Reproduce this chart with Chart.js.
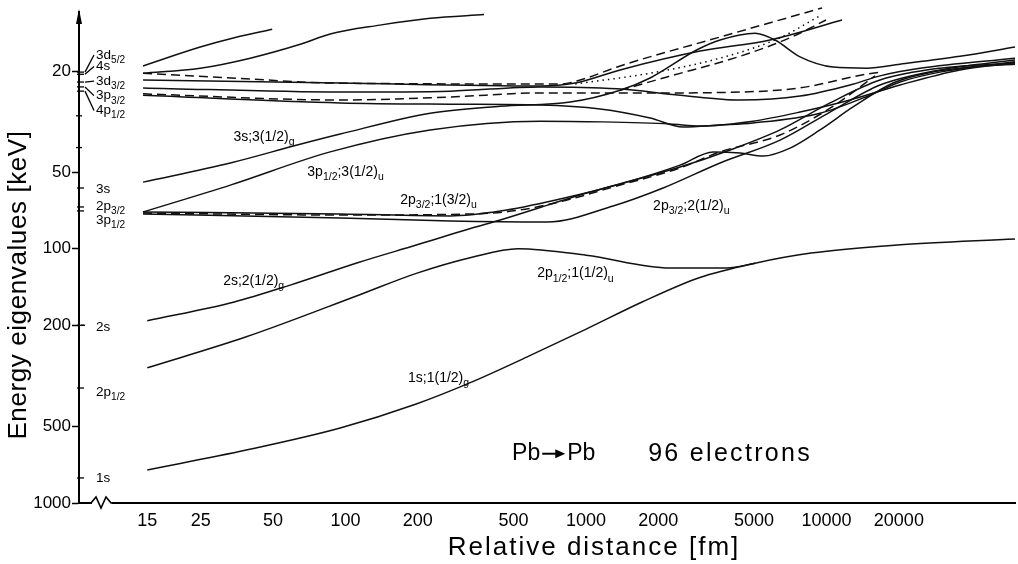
<!DOCTYPE html>
<html>
<head>
<meta charset="utf-8">
<script src="https://cdn.jsdelivr.net/npm/chart.js@4.4.1/dist/chart.umd.min.js"></script>
<style>
  html, body { margin: 0; padding: 0; background: #fff; }
  #wrap { width: 1018px; height: 564px; position: relative; }
</style>
</head>
<body>
<div id="wrap"><canvas id="chart"></canvas></div>
<script>
/* ===== DATA (x = relative distance [fm], y = energy [keV]) ===== */
const xTicks = [15, 25, 50, 100, 200, 500, 1000, 2000, 5000, 10000, 20000];
const yTicks = [20, 50, 100, 200, 500, 1000];
const yMinorTicks = [30, 40];

// united-atom levels marked on the energy axis
const levelNames = ['3d_5/2', '4s', '3d_3/2', '3p_3/2', '4p_1/2', '3s', '2p_3/2', '3p_1/2', '2s', '2p_1/2', '1s'];
const levelEnergy = [20.2, 20.6, 22.1, 23.1, 24.0, 57.7, 68.5, 71.0, 200, 353, 797];
const levelLabelE = [17.3, 19.2, 21.9, 25.0, 28.6, 58.2, 67.9, 77.1, 203, 366, 797];

// solid curves
const topShort = [[14.4, 19.1], [24.9, 16.1], [34.5, 14.8], [49.6, 13.7]];
const topRise = [[14.4, 20.4], [24.9, 19.5], [40.2, 17.8], [64.9, 15.7], [86.4, 14.3], [139, 13.2], [225, 12.4], [377, 12.0]];
const upperD = [[14.4, 21.7], [95.1, 22.3], [645, 22.9], [902, 22.3], [1387, 19.8], [2984, 16.7], [5826, 15.1], [11607, 12.6]];
const upperE = [[14.4, 23.3], [95.1, 24.2], [273, 24.0], [645, 23.1], [1347, 23.5], [2463, 24.9], [4373, 26.0], [7766, 25.1], [12530, 22.7], [16700, 20.9], [24480, 19.5], [60800, 17.8]];
const upperG = [[14.4, 24.9], [95.1, 26.7], [273, 27.0], [645, 27.2], [1145, 28.2], [1848, 30.6], [2535, 33.2], [3611, 32.6], [4952, 32.0], [9404, 29.3], [15175, 24.9], [20220, 22.1], [29640, 20.2], [60800, 18.4]];
const lvl3p12 = [[14.4, 71.7], [33.2, 56.2], [86.4, 41.6], [225, 34.1], [645, 31.5], [1179, 31.7], [2238, 32.3], [2984, 32.9], [4952, 31.5], [7766, 29.0], [12530, 26.0], [20220, 22.7], [35910, 19.8], [60800, 18.6]];
const lvl3s = [[14.4, 54.7], [33.2, 46.0], [63, 39.1], [95.1, 35.4], [225, 29.3], [440, 27.5], [860, 26.5], [1387, 23.8], [1848, 21.3], [2898, 16.5], [3611, 15.1], [5048, 14.2], [6111, 15.1], [7766, 17.6], [10650, 19.3], [14744, 19.5], [20220, 18.8], [35910, 17.5], [60800, 16.1]];
const lvl2s = [[15, 192], [34.5, 162], [58.9, 139], [114, 113], [197, 96.7], [336, 82.9], [440, 77.1], [946, 61.5], [2463, 47.7], [3975, 40.9], [6411, 34.1], [10349, 26.7], [16700, 21.7], [29640, 19.5], [60800, 18.6]];
const lvl2p32a = [[14.4, 71.7], [95.1, 73.0], [273, 74.3], [440, 71.1], [781, 63.7], [1387, 55.6], [2463, 46.9], [3378, 41.6], [4373, 42.0], [5450, 43.2], [7056, 40.2], [9404, 34.1], [12896, 27.7], [18900, 22.3], [26180, 20.4], [39510, 19.3], [60800, 18.8]];
const lvl2p32b = [[14.4, 73.0], [95.1, 75.7], [273, 77.8], [690, 78.5], [1297, 67.9], [2093, 57.7], [3611, 46.0], [6411, 37.4], [10349, 29.0], [16700, 22.7], [29640, 19.8], [60800, 18.1]];
const lvl2p12 = [[15, 294], [38.7, 222], [114, 152], [197, 125], [336, 108], [522, 100], [1002, 106], [2238, 119], [3861, 119], [5048, 114]];
const lvl1s = [[15, 741], [38.7, 619], [95.1, 507], [197, 408], [336, 334], [581, 264], [1002, 207], [1712, 162], [2955, 130], [5048, 114], [8628, 104], [19650, 96.7], [60800, 91.5]];

// dashed curves
const upperC = [[14.4, 20.4], [40.2, 21.5], [86.4, 22.3], [781, 22.5], [946, 21.7], [1387, 19.1], [3611, 14.7], [9585, 11.3]];
const upperDash2 = [[1387, 23.8], [2175, 21.1], [4373, 17.5], [7056, 14.8], [9960, 12.6]];
const upperF = [[14.4, 24.6], [95.1, 26.0], [273, 25.3], [645, 24.4], [1848, 24.4], [4373, 24.2], [7766, 23.3], [14190, 20.7], [16700, 20.2]];
const lvl2p32d = [[14.4, 72.4], [95.1, 73.7], [330, 73.0], [532, 70.4], [835, 64.3], [1297, 57.2], [2463, 48.1], [3611, 41.6], [6411, 35.7], [10349, 28.0], [15920, 20.9]];

// dotted curve
const upperDot = [[902, 22.5], [1848, 20.4], [3611, 17.8], [6411, 14.8], [9585, 12.0]];

// curve labels
const curveLabels = ['3s;3(1/2)_g', '3p_1/2;3(1/2)_u', '2p_3/2;1(3/2)_u', '2p_3/2;2(1/2)_u', '2s;2(1/2)_g', '2p_1/2;1(1/2)_u', '1s;1(1/2)_g'];
const curveLabelX = [34.2, 69.4, 169, 1902, 31.0, 627, 182];
const curveLabelE = [36.4, 49.9, 64.3, 67.9, 134, 125, 322];

const solidCurves = [topShort, topRise, upperD, upperE, upperG, lvl3p12, lvl3s, lvl2s, lvl2p32a, lvl2p32b, lvl2p12, lvl1s];
const dashedCurves = [upperC, upperDash2, upperF, lvl2p32d];
const dottedCurves = [upperDot];

/* ===== HELPERS ===== */
const FONT = '"Liberation Sans", Arial, sans-serif';

// "2p_3/2;1(3/2)_u" -> [["2p",0],["3/2",1],[";1(3/2)",0],["u",1]]
function parseLabel(s) {
  const bits = s.split('_');
  const out = [[bits[0], 0]];
  bits.slice(1).forEach(b => {
    const i = b.indexOf(';');
    if (i < 0) out.push([b, 1]);
    else { out.push([b.slice(0, i), 1]); out.push([b.slice(i), 0]); }
  });
  return out;
}

function richText(ctx, s, x, y, size) {
  let cx = x;
  ctx.textAlign = 'left';
  ctx.textBaseline = 'middle';
  parseLabel(s).forEach(([t, sub]) => {
    ctx.font = (sub ? size * 0.75 : size) + 'px ' + FONT;
    ctx.fillText(t, cx, sub ? y + size * 0.38 : y);
    cx += ctx.measureText(t).width;
  });
}

function line(ctx, x1, y1, x2, y2) {
  ctx.beginPath();
  ctx.moveTo(x1, y1);
  ctx.lineTo(x2, y2);
  ctx.stroke();
}

/* ===== DATASETS ===== */
const datasets = [];
function addCurve(pts, dash) {
  datasets.push({
    data: pts.map(p => ({ x: p[0], y: p[1] })),
    showLine: true,
    borderColor: '#111',
    borderWidth: 1.5,
    borderDash: dash,
    pointRadius: 0,
    pointHoverRadius: 0,
    cubicInterpolationMode: 'monotone',
    fill: false,
    clip: false
  });
}
solidCurves.forEach(c => addCurve(c, []));
dashedCurves.forEach(c => addCurve(c, [9, 5]));
dottedCurves.forEach(c => addCurve(c, [1.5, 4]));

/* ===== DECORATION ===== */
const decor = {
  id: 'decor',
  afterDraw(chart) {
    const { ctx, chartArea: a, scales: { x, y } } = chart;
    const ax = a.left;
    ctx.save();
    ctx.strokeStyle = '#000';
    ctx.fillStyle = '#000';

    // arrow on the energy axis
    ctx.beginPath();
    ctx.moveTo(ax, a.top - 3);
    ctx.lineTo(ax - 3, a.top + 12);
    ctx.lineTo(ax + 3, a.top + 12);
    ctx.closePath();
    ctx.fill();

    // break on the distance axis
    ctx.fillStyle = '#fff';
    ctx.fillRect(ax + 13, a.bottom - 3, 20, 6);
    ctx.fillStyle = '#000';
    ctx.lineWidth = 1.6;
    ctx.beginPath();
    ctx.moveTo(ax + 12, a.bottom);
    ctx.lineTo(ax + 17, a.bottom - 6);
    ctx.lineTo(ax + 22, a.bottom + 5);
    ctx.lineTo(ax + 27, a.bottom - 6);
    ctx.lineTo(ax + 32, a.bottom);
    ctx.lineTo(ax + 34, a.bottom);
    ctx.stroke();

    // minor ticks
    ctx.lineWidth = 1.3;
    yMinorTicks.forEach(v => {
      const py = y.getPixelForValue(v);
      line(ctx, ax - 3, py, ax + 3, py);
    });

    // level marks and names
    levelNames.forEach((n, i) => {
      const py = y.getPixelForValue(levelEnergy[i]);
      const ly = y.getPixelForValue(levelLabelE[i]);
      line(ctx, ax - 2, py, ax + 5, py);
      if (i < 5) line(ctx, ax + 6, py, ax + 15, ly);
      else if (i === 8) line(ctx, ax + 2, py, ax + 6, py);
      richText(ctx, n, ax + 17, ly, 13.5);
    });

    // curve names
    curveLabels.forEach((n, i) => {
      richText(ctx, n, x.getPixelForValue(curveLabelX[i]), y.getPixelForValue(curveLabelE[i]), 14);
    });

    // system note
    ctx.textBaseline = 'middle';
    ctx.textAlign = 'left';
    const ny = y.getPixelForValue(640);
    const nx = x.getPixelForValue(493);
    ctx.font = '23px ' + FONT;
    ctx.fillText('Pb', nx, ny);
    const pw = ctx.measureText('Pb').width;
    ctx.lineWidth = 2;
    line(ctx, nx + pw + 2, ny, nx + pw + 18, ny);
    ctx.beginPath();
    ctx.moveTo(nx + pw + 25, ny);
    ctx.lineTo(nx + pw + 15, ny - 4.5);
    ctx.lineTo(nx + pw + 15, ny + 4.5);
    ctx.closePath();
    ctx.fill();
    ctx.fillText('Pb', nx + pw + 27, ny);
    ctx.font = '25px ' + FONT;
    ctx.letterSpacing = '2.3px';
    ctx.fillText('96 electrons', x.getPixelForValue(1814), ny);

    // axis titles
    ctx.textAlign = 'center';
    ctx.font = '26px ' + FONT;
    ctx.letterSpacing = '2px';
    ctx.fillText('Relative distance [fm]', 594, 548);
    ctx.letterSpacing = '0.6px';
    ctx.translate(19, 285);
    ctx.rotate(-Math.PI / 2);
    ctx.fillText('Energy eigenvalues [keV]', 0, 0);
    ctx.restore();
  }
};

/* ===== CHART ===== */
new Chart(document.getElementById('chart'), {
  type: 'scatter',
  data: { datasets },
  options: {
    responsive: true,
    maintainAspectRatio: false,
    animation: false,
    events: [],
    layout: { padding: { top: 12, right: 3, left: 0, bottom: 0 } },
    plugins: { legend: { display: false }, tooltip: { enabled: false } },
    scales: {
      x: {
        type: 'logarithmic',
        min: 7.8,
        max: 60800,
        afterBuildTicks: s => { s.ticks = xTicks.map(v => ({ value: v })); },
        afterFit: s => { s.height = 61; },
        ticks: {
          callback: v => String(v),
          autoSkip: false,
          maxRotation: 0,
          color: '#000',
          padding: 7,
          font: { family: FONT, size: 18 }
        },
        grid: { drawOnChartArea: false, drawTicks: false },
        border: { color: '#000', width: 2 }
      },
      y: {
        type: 'logarithmic',
        reverse: true,
        min: 11.72,
        max: 1000,
        afterBuildTicks: s => { s.ticks = yTicks.map(v => ({ value: v })); },
        afterFit: s => { s.width = 79; },
        ticks: {
          callback: v => String(v),
          autoSkip: false,
          color: '#000',
          padding: 1,
          font: { family: FONT, size: 17 }
        },
        grid: { drawOnChartArea: false, tickLength: 7, tickColor: '#000', tickWidth: 1.5 },
        border: { color: '#000', width: 2 }
      }
    }
  },
  plugins: [decor]
});
</script>
</body>
</html>
